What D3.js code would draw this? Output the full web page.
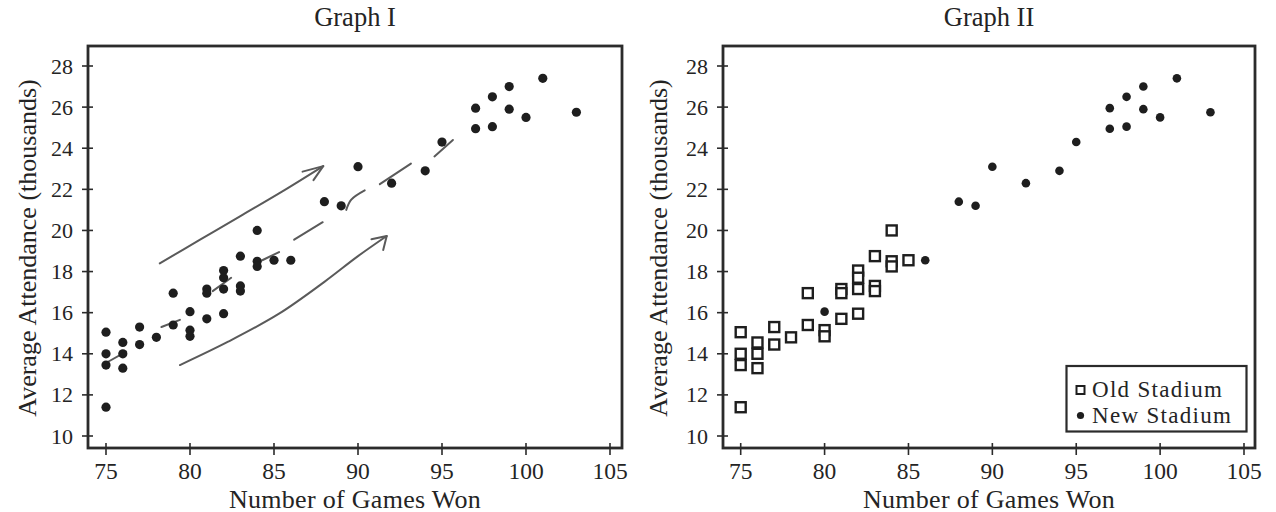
<!DOCTYPE html>
<html>
<head>
<meta charset="utf-8">
<script src="https://cdn.jsdelivr.net/npm/d3@7"></script>
<style>
  html, body { margin: 0; padding: 0; background: #fff; }
  svg { display: block; }
  text { font-family: "Liberation Serif", "Times New Roman", serif; fill: #242424; }
</style>
</head>
<body>
<svg id="chart" width="1276" height="512"></svg>
<script>
// ---------------- data ----------------
const panelTitles = ["Graph I", "Graph II"];
const xTicks = [75, 80, 85, 90, 95, 100, 105];
const yTicks = [10, 12, 14, 16, 18, 20, 22, 24, 26, 28];
const xLabel = "Number of Games Won";
const yLabel = "Average Attendance (thousands)";
const legendLabels = ["Old Stadium", "New Stadium"];

// Old stadium seasons: games won, average attendance (thousands)
const oldWins = [75, 75, 75, 75, 76, 76, 76, 77, 77, 78, 79, 79, 80, 80,
                 81, 81, 81, 82, 82, 82, 82, 83, 83, 83, 84, 84, 84, 85];
const oldAttend = [15.05, 14.0, 13.45, 11.4, 14.55, 14.0, 13.3, 15.3, 14.45, 14.8, 16.95, 15.4, 15.15, 14.85,
                   17.15, 16.95, 15.7, 18.05, 17.7, 17.15, 15.95, 18.75, 17.3, 17.05, 20.0, 18.5, 18.25, 18.55];

// New stadium seasons
const newWins = [80, 86, 88, 89, 90, 92, 94, 95, 97, 97, 98, 98, 99, 99, 100, 101, 103];
const newAttend = [16.05, 18.55, 21.4, 21.2, 23.1, 22.3, 22.9, 24.3, 25.95, 24.95, 26.5, 25.05, 27.0, 25.9, 25.5, 27.4, 25.75];

// Hand-drawn pencil annotations on Graph I (in data units)
const upperArrow = [[78.2, 18.4], [80.6, 19.55], [83.0, 20.7], [85.5, 21.9], [87.93, 23.13]];
const upperArrowHead = [[86.7, 22.86], [87.93, 23.13], [87.35, 22.45]];
const lowerArrow = [[79.4, 13.45], [82.3, 14.6], [85.3, 15.95], [88.0, 17.5], [90.0, 18.75], [91.71, 19.73]];
const lowerArrowHead = [[90.8, 19.57], [91.71, 19.73], [91.5, 19.05]];
const trendStrokes = [
  [[75.1, 13.6], [76.2, 14.1]],
  [[78.3, 15.3], [79.4, 15.65]],
  [[81.35, 17.05], [82.45, 17.7]],
  [[84.3, 18.55], [85.3, 18.95]],
  [[86.2, 19.55], [87.9, 20.4]],
  [[89.3, 21.0], [89.6, 21.5], [90.4, 21.95]],
  [[91.3, 22.25], [93.15, 23.25]],
  [[94.55, 23.6], [95.65, 24.4]]
];

// ---------------- layout ----------------
const svg = d3.select("#chart");
const ink = "#2b2b2b";

const panels = [
  { frame: { x0: 88, x1: 622, y0: 46, y1: 448 }, xr: [106, 610], yr: [436, 66], yLabelX: 36, title: panelTitles[0] },
  { frame: { x0: 723, x1: 1255, y0: 46, y1: 448 }, xr: [740.7, 1244], yr: [436, 66], yLabelX: 667, title: panelTitles[1] }
];

function drawPanel(p, idx) {
  const g = svg.append("g");
  const x = d3.scaleLinear().domain([75, 105]).range(p.xr);
  const y = d3.scaleLinear().domain([10, 28]).range(p.yr);
  const f = p.frame;

  // frame
  g.append("rect")
    .attr("x", f.x0).attr("y", f.y0)
    .attr("width", f.x1 - f.x0).attr("height", f.y1 - f.y0)
    .attr("fill", "none").attr("stroke", ink).attr("stroke-width", 2.8);

  // x ticks (crossing frame)
  g.selectAll(".xt").data(xTicks).join("line")
    .attr("x1", d => x(d)).attr("x2", d => x(d))
    .attr("y1", f.y1 - 5).attr("y2", f.y1 + 7)
    .attr("stroke", ink).attr("stroke-width", 1.6);
  g.selectAll(".xl").data(xTicks).join("text")
    .attr("x", d => x(d)).attr("y", 479)
    .attr("text-anchor", "middle").attr("font-size", 23.5)
    .text(d => d);

  // y ticks
  g.selectAll(".yt").data(yTicks).join("line")
    .attr("x1", f.x0 - 6).attr("x2", f.x0 + 5)
    .attr("y1", d => y(d)).attr("y2", d => y(d))
    .attr("stroke", ink).attr("stroke-width", 1.6);
  g.selectAll(".yl").data(yTicks).join("text")
    .attr("x", f.x0 - 15).attr("y", d => y(d) + 7.5)
    .attr("text-anchor", "end").attr("font-size", 22)
    .text(d => d);

  // titles & axis labels
  g.append("text")
    .attr("x", (f.x0 + f.x1) / 2).attr("y", 26)
    .attr("text-anchor", "middle").attr("font-size", 26.5)
    .text(p.title);
  g.append("text")
    .attr("x", (f.x0 + f.x1) / 2).attr("y", 507.5)
    .attr("text-anchor", "middle").attr("font-size", 26)
    .attr("letter-spacing", 0.3)
    .text(xLabel);
  g.append("text")
    .attr("transform", `translate(${p.yLabelX},${(f.y0 + f.y1) / 2 + 1}) rotate(-90)`)
    .attr("text-anchor", "middle").attr("font-size", 26)
    .text(yLabel);

  const oldPts = oldWins.map((w, i) => [w, oldAttend[i]]);
  const newPts = newWins.map((w, i) => [w, newAttend[i]]);

  if (idx === 0) {
    // annotations (pencil)
    const line = d3.line().x(d => x(d[0])).y(d => y(d[1]));
    const curve = d3.line().x(d => x(d[0])).y(d => y(d[1])).curve(d3.curveCatmullRom);
    const pencil = "#5a5a5a";
    [upperArrow, lowerArrow].forEach(a =>
      g.append("path").attr("d", curve(a)).attr("fill", "none")
        .attr("stroke", pencil).attr("stroke-width", 2).attr("stroke-linecap", "round"));
    [upperArrowHead, lowerArrowHead].forEach(a =>
      g.append("path").attr("d", line(a)).attr("fill", "none")
        .attr("stroke", pencil).attr("stroke-width", 2).attr("stroke-linecap", "round").attr("stroke-linejoin", "round"));
    trendStrokes.forEach(s =>
      g.append("path").attr("d", curve(s)).attr("fill", "none")
        .attr("stroke", pencil).attr("stroke-width", 2).attr("stroke-linecap", "round"));

    // all points as dots
    g.selectAll(".dot").data(oldPts.concat(newPts)).join("circle")
      .attr("cx", d => x(d[0])).attr("cy", d => y(d[1])).attr("r", 4.6)
      .attr("fill", "#1e1e1e");
  } else {
    const s = 10;
    g.selectAll(".sq").data(oldPts).join("rect")
      .attr("x", d => x(d[0]) - s / 2).attr("y", d => y(d[1]) - s / 2)
      .attr("width", s).attr("height", s)
      .attr("fill", "#fff").attr("stroke", "#1e1e1e").attr("stroke-width", 2.4);
    g.selectAll(".dot").data(newPts).join("circle")
      .attr("cx", d => x(d[0])).attr("cy", d => y(d[1])).attr("r", 4.3)
      .attr("fill", "#1e1e1e");

    // legend
    const lg = g.append("g");
    lg.append("rect").attr("x", 1066.5).attr("y", 366).attr("width", 180).attr("height", 65.5)
      .attr("fill", "#fff").attr("stroke", ink).attr("stroke-width", 2.2);
    lg.append("rect").attr("x", 1076.5).attr("y", 386).attr("width", 8).attr("height", 8)
      .attr("fill", "#fff").attr("stroke", "#1e1e1e").attr("stroke-width", 2);
    lg.append("circle").attr("cx", 1080.5).attr("cy", 415.5).attr("r", 3.6).attr("fill", "#1e1e1e");
    lg.selectAll(".lt").data(legendLabels).join("text")
      .attr("x", 1092).attr("y", (d, i) => 397 + i * 25.5)
      .attr("font-size", 23)
      .attr("letter-spacing", 1.3)
      .text(d => d);
  }
}

panels.forEach(drawPanel);
</script>
</body>
</html>
